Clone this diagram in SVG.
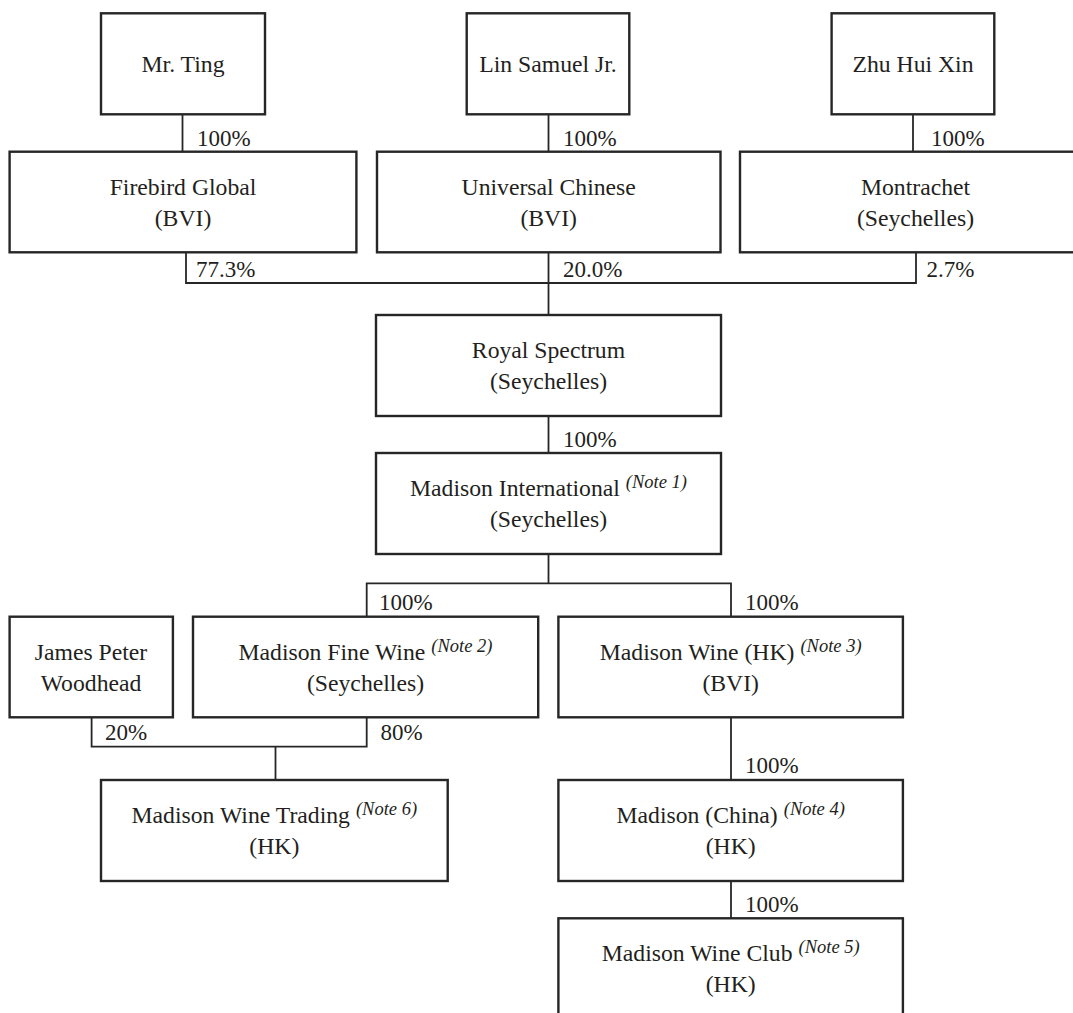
<svg xmlns="http://www.w3.org/2000/svg" width="1073" height="1013" viewBox="0 0 1073 1013">
  <style>
    .box { fill: #ffffff; stroke: #262626; stroke-width: 2.4; }
    .conn { fill: none; stroke: #262626; stroke-width: 1.8; }
    .t { font-family: "Liberation Serif", "Times New Roman", serif; font-size: 23.7px; fill: #231f20; text-anchor: middle; }
    .p { font-family: "Liberation Serif", "Times New Roman", serif; font-size: 23px; fill: #231f20; }
    .n { font-style: italic; font-size: 18.5px; }
  </style>
  <rect width="1073" height="1013" fill="#ffffff"/>

  <g id="connectors">
    <line class="conn" x1="182.5" y1="114.3" x2="182.5" y2="151.7"/>
    <line class="conn" x1="548.5" y1="114.3" x2="548.5" y2="151.7"/>
    <line class="conn" x1="913" y1="114.3" x2="913" y2="151.7"/>
    <polyline class="conn" points="186,252.3 186,283 916,283 916,252.3"/>
    <line class="conn" x1="548.5" y1="252.3" x2="548.5" y2="315"/>
    <line class="conn" x1="548.5" y1="416" x2="548.5" y2="453"/>
    <line class="conn" x1="548.5" y1="554" x2="548.5" y2="583.3"/>
    <polyline class="conn" points="366.7,616.7 366.7,583.3 731,583.3 731,616.7"/>
    <polyline class="conn" points="91.6,717.3 91.6,746.7 366.7,746.7 366.7,717.3"/>
    <line class="conn" x1="275.5" y1="746.7" x2="275.5" y2="780"/>
    <line class="conn" x1="731" y1="717.3" x2="731" y2="780"/>
    <line class="conn" x1="731" y1="881" x2="731" y2="918.3"/>

    <text class="p" x="197" y="146">100%</text>
    <text class="p" x="563" y="146">100%</text>
    <text class="p" x="931" y="146">100%</text>
    <text class="p" x="196" y="277">77.3%</text>
    <text class="p" x="563" y="277">20.0%</text>
    <text class="p" x="926.5" y="277">2.7%</text>
    <text class="p" x="563" y="447">100%</text>
    <text class="p" x="379" y="610">100%</text>
    <text class="p" x="745" y="610">100%</text>
    <text class="p" x="105" y="740">20%</text>
    <text class="p" x="380.5" y="740">80%</text>
    <text class="p" x="745" y="773">100%</text>
    <text class="p" x="745" y="911.7">100%</text>
  </g>

  <g id="mr-ting">
    <rect class="box" x="101" y="13.3" width="164" height="101"/>
    <text class="t" x="183" y="71.7">Mr. Ting</text>
  </g>
  <g id="lin-samuel">
    <rect class="box" x="466.7" y="13.3" width="162.6" height="101"/>
    <text class="t" x="548" y="71.7">Lin Samuel Jr.</text>
  </g>
  <g id="zhu-hui-xin">
    <rect class="box" x="831.6" y="13.3" width="162.7" height="101"/>
    <text class="t" x="913" y="71.7">Zhu Hui Xin</text>
  </g>

  <g id="firebird">
    <rect class="box" x="9.6" y="151.7" width="346.8" height="100.6"/>
    <text class="t" x="183" y="194.7">Firebird Global</text>
    <text class="t" x="183" y="226">(BVI)</text>
  </g>
  <g id="universal">
    <rect class="box" x="377" y="151.7" width="343.5" height="100.6"/>
    <text class="t" x="548.7" y="194.7">Universal Chinese</text>
    <text class="t" x="548.7" y="226">(BVI)</text>
  </g>
  <g id="montrachet">
    <rect class="box" x="740" y="151.7" width="350" height="100.6"/>
    <text class="t" x="915.5" y="194.7">Montrachet</text>
    <text class="t" x="915.5" y="226">(Seychelles)</text>
  </g>

  <g id="royal-spectrum">
    <rect class="box" x="376" y="315" width="345" height="101"/>
    <text class="t" x="548.5" y="358">Royal Spectrum</text>
    <text class="t" x="548.5" y="389">(Seychelles)</text>
  </g>
  <g id="madison-international">
    <rect class="box" x="376" y="453" width="345" height="101"/>
    <text class="t" x="548.5" y="496">Madison International<tspan class="n" dx="6" dy="-8">(Note 1)</tspan></text>
    <text class="t" x="548.5" y="527">(Seychelles)</text>
  </g>

  <g id="james-peter-woodhead">
    <rect class="box" x="9.6" y="616.7" width="163.3" height="100.6"/>
    <text class="t" x="91" y="659.7">James Peter</text>
    <text class="t" x="91" y="691">Woodhead</text>
  </g>
  <g id="madison-fine-wine">
    <rect class="box" x="193" y="616.7" width="345.2" height="100.6"/>
    <text class="t" x="365.5" y="659.7">Madison Fine Wine<tspan class="n" dx="6" dy="-8">(Note 2)</tspan></text>
    <text class="t" x="365.5" y="691">(Seychelles)</text>
  </g>
  <g id="madison-wine-hk">
    <rect class="box" x="558.4" y="616.7" width="344.5" height="100.6"/>
    <text class="t" x="730.7" y="659.7">Madison Wine (HK)<tspan class="n" dx="6" dy="-8">(Note 3)</tspan></text>
    <text class="t" x="730.7" y="691">(BVI)</text>
  </g>

  <g id="madison-wine-trading">
    <rect class="box" x="101" y="780" width="346.7" height="101"/>
    <text class="t" x="274.3" y="823">Madison Wine Trading<tspan class="n" dx="6" dy="-8">(Note 6)</tspan></text>
    <text class="t" x="274.3" y="854">(HK)</text>
  </g>
  <g id="madison-china">
    <rect class="box" x="558.4" y="780" width="344.5" height="101"/>
    <text class="t" x="730.7" y="823">Madison (China)<tspan class="n" dx="6" dy="-8">(Note 4)</tspan></text>
    <text class="t" x="730.7" y="854">(HK)</text>
  </g>
  <g id="madison-wine-club">
    <rect class="box" x="558.4" y="918.3" width="344.5" height="120"/>
    <text class="t" x="730.7" y="961">Madison Wine Club<tspan class="n" dx="6" dy="-8">(Note 5)</tspan></text>
    <text class="t" x="730.7" y="992">(HK)</text>
  </g>
</svg>
